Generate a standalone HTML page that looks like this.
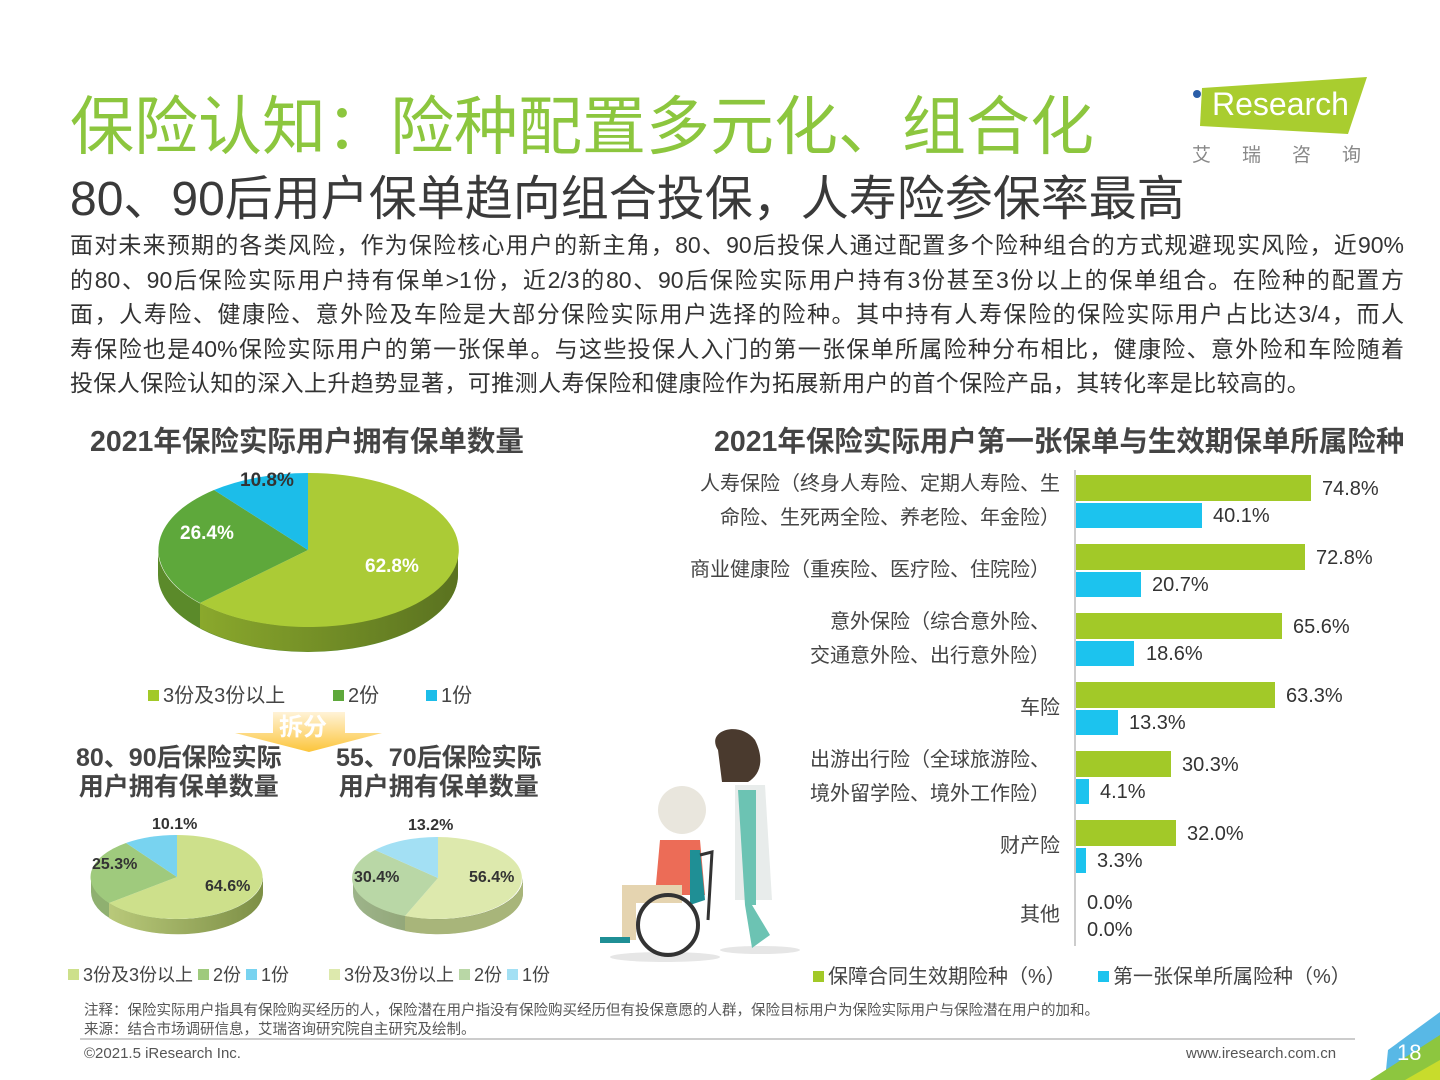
<!DOCTYPE html>
<html><head><meta charset="utf-8">
<style>
*{margin:0;padding:0;box-sizing:border-box}
body{width:1440px;height:1080px;background:#fff;position:relative;overflow:hidden;font-family:"Liberation Sans","Noto Sans CJK SC",sans-serif;color:#333}
.a{position:absolute;white-space:nowrap}
.p{left:70px;width:1334px;font-size:23px;line-height:34.6px;color:#333;text-align:justify;text-align-last:justify;white-space:nowrap;position:absolute}
.ct{font-size:28.5px;font-weight:bold;color:#444}
.lab{font-size:20px;color:#444;text-align:right;line-height:34px}
.v{font-size:20px;color:#333}
.lg{font-size:20px;color:#444}
.sq{display:inline-block;width:11px;height:11px;margin-right:4px;vertical-align:1px}
</style></head><body>
<svg class="a" style="left:0;top:0" width="1440" height="1080">
<defs>
<linearGradient id="sd" x1="0" x2="1"><stop offset="0" stop-color="#8aa82c"/><stop offset="1" stop-color="#5a7220"/></linearGradient>
<linearGradient id="sd2" x1="0" x2="1"><stop offset="0" stop-color="#b9c97a"/><stop offset="1" stop-color="#7d8f46"/></linearGradient>
<linearGradient id="sd3" x1="0" x2="1"><stop offset="0" stop-color="#9db48a"/><stop offset="1" stop-color="#7c8a55"/></linearGradient>
<linearGradient id="ar" x1="0" y1="0" x2="0" y2="1"><stop offset="0" stop-color="#fff3d8"/><stop offset="1" stop-color="#fcc53a"/></linearGradient>
</defs>
<polygon points="1202,88 1367,77 1348,134 1200,126" fill="#a9cd2f"/>
<circle cx="1197" cy="94" r="4" fill="#2a5ea8"/>
<path d="M158,550 A150,77 0 0 0 458,550 L458,575 A150,77 0 0 1 158,575 Z" fill="#5b8a2a"/>
<path d="M200,603 A150,77 0 0 0 458,550 L458,575 A150,77 0 0 1 200,628 Z" fill="url(#sd)"/>
<path d="M308,550 L308,473 A150,77 0 1 1 200,603 Z" fill="#abcb36"/>
<path d="M308,550 L200,603 A150,77 0 0 1 214,490 Z" fill="#5ea83b"/>
<path d="M308,550 L214,490 A150,77 0 0 1 308,473 Z" fill="#1cbde9"/>
<polygon points="273,712 345,712 345,733 382,733 309,752 235,733 273,733" fill="url(#ar)"/>
<path d="M91,877 A86,42 0 0 0 263,877 L263,892 A86,42 0 0 1 91,892 Z" fill="#8fb070"/>
<path d="M109,903 A86,42 0 0 0 263,877 L263,892 A86,42 0 0 1 109,918 Z" fill="url(#sd2)"/>
<path d="M177,877 L177,835 A86,42 0 1 1 109,903 Z" fill="#cde08b"/>
<path d="M177,877 L109,903 A86,42 0 0 1 126,843 Z" fill="#9fca7d"/>
<path d="M177,877 L126,843 A86,42 0 0 1 177,835 Z" fill="#78d3f0"/>
<path d="M353,878 A85,41 0 0 0 523,878 L523,893 A85,41 0 0 1 353,893 Z" fill="url(#sd3)"/>
<path d="M405,916 A85,41 0 0 0 523,878 L523,893 A85,41 0 0 1 405,931 Z" fill="#a8b57a"/>
<path d="M438,878 L438,837 A85,41 0 1 1 405,916 Z" fill="#dde9ad"/>
<path d="M438,878 L405,916 A85,41 0 0 1 375,850 Z" fill="#b9d7a6"/>
<path d="M438,878 L375,850 A85,41 0 0 1 438,837 Z" fill="#a3e0f4"/>
<line x1="1075" y1="470" x2="1075" y2="946" stroke="#999" stroke-width="1"/>
<g fill="#a2c928">
<rect x="1076" y="475" width="235" height="26"/><rect x="1076" y="544" width="229" height="26"/><rect x="1076" y="613" width="206" height="26"/><rect x="1076" y="682" width="199" height="26"/><rect x="1076" y="751" width="95" height="26"/><rect x="1076" y="820" width="100" height="26"/></g>
<g fill="#1cc3ee">
<rect x="1076" y="503" width="126" height="25"/><rect x="1076" y="572" width="65" height="25"/><rect x="1076" y="641" width="58" height="25"/><rect x="1076" y="710" width="42" height="25"/><rect x="1076" y="779" width="13" height="25"/><rect x="1076" y="848" width="10" height="25"/></g>
<ellipse cx="665" cy="957" rx="55" ry="5" fill="#e6e6e6"/>
<ellipse cx="760" cy="950" rx="40" ry="4" fill="#e6e6e6"/>
<path d="M718,750 C705,730 740,720 755,740 C765,760 760,775 748,782 L722,782 Z" fill="#4a3a2e"/>
<path d="M735,785 L765,785 L772,900 L735,900 Z" fill="#e8eceb"/>
<path d="M738,790 L756,790 L756,905 L745,905 Z" fill="#6cc3b3"/>
<path d="M745,905 L752,905 L770,935 L752,948 Z" fill="#6cc3b3"/>
<circle cx="682" cy="810" r="24" fill="#e9e6dd"/>
<path d="M660,840 L700,840 L705,895 L655,895 Z" fill="#ec6c57"/>
<rect x="622" y="885" width="60" height="18" fill="#e5d4b0"/>
<rect x="622" y="890" width="14" height="50" fill="#e5d4b0"/>
<path d="M690,850 L700,850 L705,900 L690,905 Z" fill="#1f8f95"/>
<circle cx="668" cy="925" r="30" fill="none" stroke="#333" stroke-width="4"/>
<path d="M700,855 L712,852 L708,920" fill="none" stroke="#333" stroke-width="3"/>
<rect x="600" y="937" width="30" height="6" fill="#1f8f95"/>
<polygon points="1440,1012 1440,1080 1385,1080 1388,1050" fill="#58b8e6"/>
<polygon points="1440,1035 1440,1080 1370,1080" fill="#8dc63f"/>
<polygon points="1440,1060 1440,1080 1405,1080" fill="#c8dc2c"/>
<line x1="80" y1="1039" x2="1355" y2="1039" stroke="#999" stroke-width="1"/>
</svg>
<div class="a" style="left:1212px;top:86px;font-size:32px;color:#fff">Research</div>
<div class="a" style="left:1192px;top:140px;font-size:19px;color:#888;letter-spacing:31px">艾瑞咨询</div>

<div class="a" style="left:70px;top:76px;font-size:64px;color:#8cc63e">保险认知：险种配置多元化、组合化</div>
<div class="a" style="left:70px;top:159px;font-size:48px;color:#3a3a3a">80、90后用户保单趋向组合投保，人寿险参保率最高</div>
<div class="p" style="top:228px">面对未来预期的各类风险，作为保险核心用户的新主角，80、90后投保人通过配置多个险种组合的方式规避现实风险，近90%</div>
<div class="p" style="top:263px">的80、90后保险实际用户持有保单&gt;1份，近2/3的80、90后保险实际用户持有3份甚至3份以上的保单组合。在险种的配置方</div>
<div class="p" style="top:297px">面，人寿险、健康险、意外险及车险是大部分保险实际用户选择的险种。其中持有人寿保险的保险实际用户占比达3/4，而人</div>
<div class="p" style="top:332px">寿保险也是40%保险实际用户的第一张保单。与这些投保人入门的第一张保单所属险种分布相比，健康险、意外险和车险随着</div>
<div class="a" style="left:70px;top:366px;font-size:23px;line-height:34.6px;letter-spacing:0.4px">投保人保险认知的深入上升趋势显著，可推测人寿保险和健康险作为拓展新用户的首个保险产品，其转化率是比较高的。</div>

<div class="a ct" style="left:90px;top:419px">2021年保险实际用户拥有保单数量</div>
<div class="a ct" style="left:714px;top:419px">2021年保险实际用户第一张保单与生效期保单所属险种</div>

<div class="a" style="left:240px;top:470px;font-size:19px;font-weight:bold;color:#333">10.8%</div>
<div class="a" style="left:180px;top:523px;font-size:19px;font-weight:bold;color:#fff">26.4%</div>
<div class="a" style="left:365px;top:556px;font-size:19px;font-weight:bold;color:#fff">62.8%</div>
<div class="a lg" style="left:148px;top:679px"><span class="sq" style="background:#a2c928"></span>3份及3份以上</div>
<div class="a lg" style="left:333px;top:679px"><span class="sq" style="background:#5ea83b"></span>2份</div>
<div class="a lg" style="left:426px;top:679px"><span class="sq" style="background:#1cbde9"></span>1份</div>
<div class="a" style="left:279px;top:707px;font-size:24px;font-weight:bold;color:#fff">拆分</div>
<div class="a ct" style="left:76px;top:744px;font-size:25px;line-height:29px;text-align:center">80、90后保险实际<br>用户拥有保单数量</div>
<div class="a ct" style="left:336px;top:744px;font-size:25px;line-height:29px;text-align:center">55、70后保险实际<br>用户拥有保单数量</div>
<div class="a" style="left:152px;top:816px;font-size:16px;font-weight:bold;color:#333">10.1%</div>
<div class="a" style="left:92px;top:856px;font-size:16px;font-weight:bold;color:#333">25.3%</div>
<div class="a" style="left:205px;top:878px;font-size:16px;font-weight:bold;color:#333">64.6%</div>
<div class="a" style="left:408px;top:817px;font-size:16px;font-weight:bold;color:#333">13.2%</div>
<div class="a" style="left:354px;top:869px;font-size:16px;font-weight:bold;color:#333">30.4%</div>
<div class="a" style="left:469px;top:869px;font-size:16px;font-weight:bold;color:#333">56.4%</div>
<div class="a" style="left:68px;top:961px;font-size:18px;color:#444"><span class="sq" style="background:#cde08b"></span>3份及3份以上 <span class="sq" style="background:#9fca7d"></span>2份 <span class="sq" style="background:#78d3f0"></span>1份</div>
<div class="a" style="left:329px;top:961px;font-size:18px;color:#444"><span class="sq" style="background:#dde9ad"></span>3份及3份以上 <span class="sq" style="background:#b9d7a6"></span>2份 <span class="sq" style="background:#a3e0f4"></span>1份</div>

<div class="a lab" style="right:380px;top:467px">人寿保险（终身人寿险、定期人寿险、生<br>命险、生死两全险、养老险、年金险）</div>
<div class="a lab" style="right:390px;top:553px">商业健康险（重疾险、医疗险、住院险）</div>
<div class="a lab" style="right:390px;top:605px">意外保险（综合意外险、<br>交通意外险、出行意外险）</div>
<div class="a lab" style="right:380px;top:691px">车险</div>
<div class="a lab" style="right:390px;top:743px">出游出行险（全球旅游险、<br>境外留学险、境外工作险）</div>
<div class="a lab" style="right:380px;top:829px">财产险</div>
<div class="a lab" style="right:380px;top:898px">其他</div>
<div class="a v" style="left:1322px;top:478px">74.8%</div>
<div class="a v" style="left:1213px;top:505px">40.1%</div>
<div class="a v" style="left:1316px;top:547px">72.8%</div>
<div class="a v" style="left:1152px;top:574px">20.7%</div>
<div class="a v" style="left:1293px;top:616px">65.6%</div>
<div class="a v" style="left:1146px;top:643px">18.6%</div>
<div class="a v" style="left:1286px;top:685px">63.3%</div>
<div class="a v" style="left:1129px;top:712px">13.3%</div>
<div class="a v" style="left:1182px;top:754px">30.3%</div>
<div class="a v" style="left:1100px;top:781px">4.1%</div>
<div class="a v" style="left:1187px;top:823px">32.0%</div>
<div class="a v" style="left:1097px;top:850px">3.3%</div>
<div class="a v" style="left:1087px;top:892px">0.0%</div>
<div class="a v" style="left:1087px;top:919px">0.0%</div>
<div class="a lg" style="left:813px;top:960px"><span class="sq" style="background:#a2c928"></span>保障合同生效期险种（%）</div>
<div class="a lg" style="left:1098px;top:960px"><span class="sq" style="background:#1cc3ee"></span>第一张保单所属险种（%）</div>

<div class="a" style="left:84px;top:999px;font-size:14.5px;color:#555">注释：保险实际用户指具有保险购买经历的人，保险潜在用户指没有保险购买经历但有投保意愿的人群，保险目标用户为保险实际用户与保险潜在用户的加和。</div>
<div class="a" style="left:84px;top:1018px;font-size:14.5px;color:#555">来源：结合市场调研信息，艾瑞咨询研究院自主研究及绘制。</div>
<div class="a" style="left:84px;top:1045px;font-size:15px;color:#555">©2021.5 iResearch Inc.</div>
<div class="a" style="left:1186px;top:1045px;font-size:15px;color:#555">www.iresearch.com.cn</div>
<div class="a" style="left:1397px;top:1040px;font-size:22px;color:#fff">18</div>
</body></html>
